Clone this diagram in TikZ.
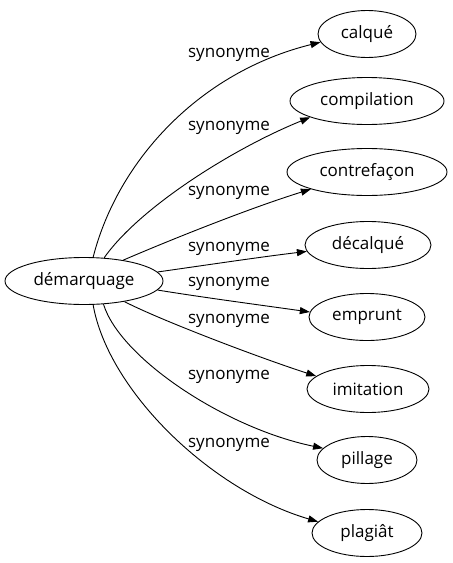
\documentclass[tikz,border=0pt]{standalone}
\usepackage{fontspec}
\setmainfont{Open Sans}
\usetikzlibrary{arrows.meta,shapes.geometric}
\begin{document}
\begin{tikzpicture}[x=1pt,y=-1pt,
  every node/.style={font=\fontsize{17}{20}\selectfont},
  term/.style={ellipse,draw,line width=0.9pt,inner sep=0pt,minimum height=47pt},
  rel/.style={line width=0.9pt,-{Triangle[length=10pt,width=7pt]}},
  lbl/.style={inner sep=0pt}]
\useasboundingbox (0,0) rectangle (453,563);
\node[term,minimum width=158pt] (src) at (84,281) {démarquage};
\node[term,minimum width=98pt] (t1) at (367,34) {calqué};
\node[term,minimum width=154pt] (t2) at (367,101) {compilation};
\node[term,minimum width=160pt] (t3) at (367,172) {contrefaçon};
\node[term,minimum width=126pt] (t4) at (368,245) {décalqué};
\node[term,minimum width=116pt] (t5) at (367,317) {emprunt};
\node[term,minimum width=122pt] (t6) at (368,389) {imitation};
\node[term,minimum width=100pt] (t7) at (367,460) {pillage};
\node[term,minimum width=110pt] (t8) at (367,533) {plagiât};
\draw[rel] (src.69) .. controls (118,160) and (200,72) .. (t1.190);
\draw[rel] (src.49) .. controls (139,208) and (232,149) .. (t2.196);
\draw[rel] (src.28) .. controls (170,240) and (250,208) .. (t3.197);
\draw[rel] (src.7) .. controls (200,266) and (260,257) .. (t4.186);
\draw[rel] (src.-7.5) .. controls (200,297) and (260,305) .. (t5.175);
\draw[rel] (src.-27) .. controls (160,320) and (260,358) .. (t6.166);
\draw[rel] (src.-50) .. controls (120,358) and (225,428) .. (t7.165);
\draw[rel] (src.-69) .. controls (108,390) and (210,490) .. (t8.167);
\node[lbl] (l1) at (229,55) {synonyme};
\node[lbl] (l2) at (229,128) {synonyme};
\node[lbl] (l3) at (229,193) {synonyme};
\node[lbl] (l4) at (229,249) {synonyme};
\node[lbl] (l5) at (229,284) {synonyme};
\node[lbl] (l6) at (229,321) {synonyme};
\node[lbl] (l7) at (229,377) {synonyme};
\node[lbl] (l8) at (229,445) {synonyme};
\end{tikzpicture}
\end{document}
